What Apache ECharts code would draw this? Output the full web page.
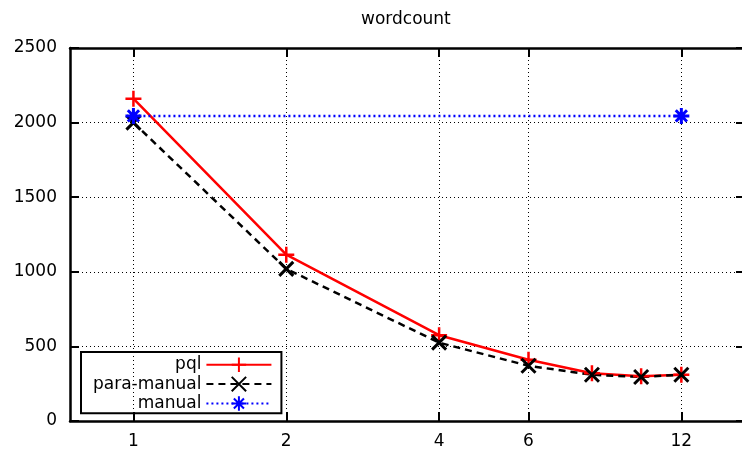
<!DOCTYPE html>
<html><head><meta charset="utf-8">
<script src="https://cdn.jsdelivr.net/npm/echarts@6/dist/echarts.min.js"></script>
<style>html,body{margin:0;padding:0;background:#fff}#c{width:742px;height:450px}</style>
</head><body><div id="c"></div>
<script>
const xValues = [1, 2, 4, 6, 8, 10, 12];
const xTicks = [1, 2, 4, 6, 12];
const yTicks = [0, 500, 1000, 1500, 2000, 2500];
const pql = [2160, 1115, 575, 410, 320, 300, 310];
const paraManual = [2000, 1020, 525, 370, 310, 295, 310];
const manualX = [1, 12];
const manual = [2045, 2045];

const FONT = 'DejaVu Sans';
const chart = echarts.init(document.getElementById('c'), null, {renderer: 'canvas'});
const plusSym = 'path://M0,-10L0,10M-10,0L10,0';
const crossSym = 'path://M-10,-10L10,10M-10,10L10,-10';
const starSym = 'path://M0,-10L0,10M-10,0L10,0M-7,-7L7,7M-7,7L7,-7';

const xBase = {
  type: 'log', logBase: 10, min: 0.75, max: 15.8,
  axisLine: {show: true, onZero: false, lineStyle: {color: '#000', width: 2.5}},
  axisTick: {show: true, inside: true, length: 9, customValues: xTicks, lineStyle: {color: '#000', width: 2}},
  minorTick: {show: false}, minorSplitLine: {show: false}
};
const yBase = {
  type: 'value', min: yTicks[0], max: yTicks[yTicks.length - 1], interval: 500,
  axisTick: {show: true, inside: true, length: 9, lineStyle: {color: '#000', width: 2}}
};

chart.setOption({
  animation: false,
  backgroundColor: '#fff',
  title: {text: 'wordcount', left: 356, top: 6,
    textStyle: {fontFamily: FONT, fontSize: 17, fontWeight: 'normal', color: '#000'}},
  grid: {left: 70, right: 0, top: 48, bottom: 29, containLabel: false},
  legend: {
    orient: 'vertical', left: 81, top: 352, align: 'right',
    itemWidth: 65, itemHeight: 18, itemGap: 0,
    padding: [3, 9, 0, 12],
    borderColor: '#000', borderWidth: 2,
    textStyle: {fontFamily: FONT, fontSize: 17, color: '#000'},
    data: ['pql', 'para-manual', 'manual']
  },
  xAxis: [
    Object.assign({}, xBase, {position: 'bottom',
      axisLabel: {show: true, customValues: xTicks, margin: 12, formatter: v => String(v),
        fontFamily: FONT, fontSize: 17, color: '#000'},
      splitLine: {show: true, lineStyle: {color: '#000', width: 1, type: [1, 3]}}}),
    Object.assign({}, xBase, {position: 'top', axisLabel: {show: false}, splitLine: {show: false}})
  ],
  yAxis: [
    Object.assign({}, yBase, {position: 'left',
      axisLine: {show: true, lineStyle: {color: '#000', width: 2.5}},
      axisLabel: {show: true, margin: 13, formatter: v => String(v), fontFamily: FONT, fontSize: 17, color: '#000'},
      splitLine: {show: true, lineStyle: {color: '#000', width: 1, type: [1, 3]}}}),
    Object.assign({}, yBase, {position: 'right',
      axisLine: {show: false},
      axisTick: {show: true, inside: true, length: 6, lineStyle: {color: '#000', width: 2}},
      axisLabel: {show: false}, splitLine: {show: false}})
  ],
  series: [
    {name: 'pql', type: 'line', data: xValues.map((x, i) => [x, pql[i]]),
      symbol: plusSym, symbolSize: 16, color: '#ff0000',
      lineStyle: {color: '#ff0000', width: 2.5, type: 'solid'},
      itemStyle: {color: 'none', borderColor: '#ff0000', borderWidth: 2.5}},
    {name: 'para-manual', type: 'line', data: xValues.map((x, i) => [x, paraManual[i]]),
      symbol: crossSym, symbolSize: 14, color: '#000000',
      lineStyle: {color: '#000', width: 2.5, type: [7, 5]},
      itemStyle: {color: 'none', borderColor: '#000', borderWidth: 3}},
    {name: 'manual', type: 'line', data: manualX.map((x, i) => [x, manual[i]]),
      symbol: starSym, symbolSize: 16, color: '#0000ff',
      lineStyle: {color: '#0000ff', width: 2.5, type: [2, 3]},
      itemStyle: {color: 'none', borderColor: '#0000ff', borderWidth: 3}}
  ]
});
</script></body></html>
